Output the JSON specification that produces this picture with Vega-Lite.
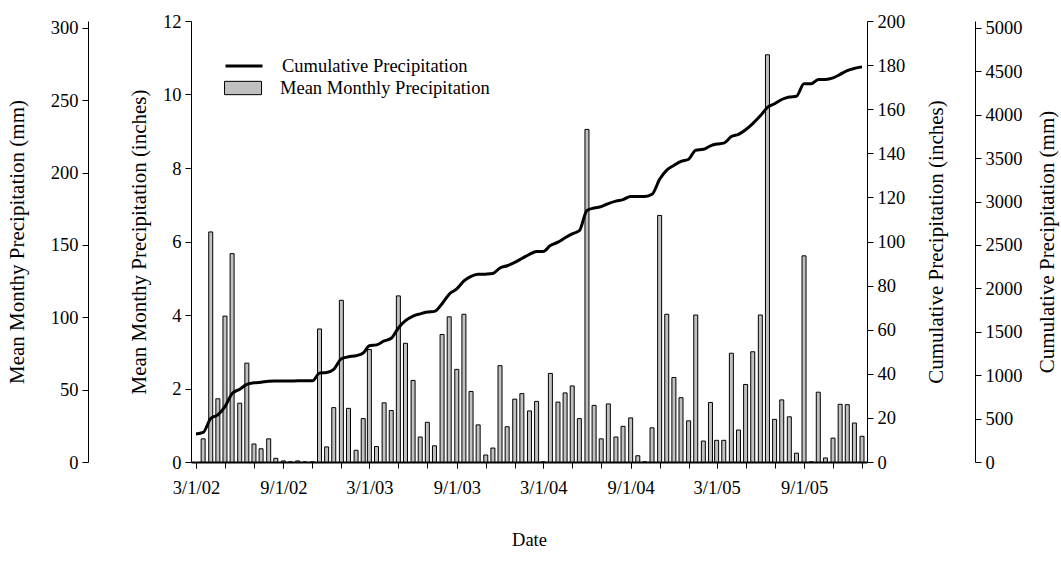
{
  "$schema": "https://vega.github.io/schema/vega-lite/v6.json",
  "width": 676,
  "height": 441,
  "autosize": {"type": "none"},
  "padding": {"left": 191, "top": 21, "right": 194, "bottom": 107},
  "background": "white",
  "config": {
    "font": "Liberation Serif",
    "view": {"stroke": null},
    "axis": {
      "labelFont": "Liberation Serif",
      "titleFont": "Liberation Serif",
      "labelFontSize": 18.5,
      "titleFontSize": 18.5,
      "titleFontWeight": "normal",
      "labelColor": "black",
      "titleColor": "black",
      "domainColor": "black",
      "tickColor": "black",
      "grid": false,
      "tickSize": 6,
      "labelPadding": 4
    },
    "axisY": {"titleFontSize": 21},
    "legend": {
      "labelFont": "Liberation Serif",
      "labelFontSize": 18.5,
      "labelColor": "black",
      "labelLimit": 500
    }
  },
  "datasets": {
    "precip": [
      {"date": "2002/03/01", "precip": null, "cum": 12.7},
      {"date": "2002/03/16", "precip": 0.63, "cum": 13.4},
      {"date": "2002/04/01", "precip": 6.26, "cum": 19.7},
      {"date": "2002/04/16", "precip": 1.72, "cum": 21.4},
      {"date": "2002/05/01", "precip": 3.97, "cum": 25.1},
      {"date": "2002/05/16", "precip": 5.67, "cum": 31.0},
      {"date": "2002/06/01", "precip": 1.60, "cum": 33.0},
      {"date": "2002/06/16", "precip": 2.69, "cum": 35.2},
      {"date": "2002/07/01", "precip": 0.49, "cum": 35.9},
      {"date": "2002/07/16", "precip": 0.36, "cum": 36.2},
      {"date": "2002/08/01", "precip": 0.63, "cum": 36.6},
      {"date": "2002/08/16", "precip": 0.10, "cum": 36.7},
      {"date": "2002/09/01", "precip": 0.03, "cum": 36.75},
      {"date": "2002/09/16", "precip": 0, "cum": 36.75},
      {"date": "2002/10/01", "precip": 0.03, "cum": 36.8},
      {"date": "2002/10/16", "precip": 0, "cum": 36.8},
      {"date": "2002/11/01", "precip": 0, "cum": 36.8},
      {"date": "2002/11/16", "precip": 3.62, "cum": 40.3},
      {"date": "2002/12/01", "precip": 0.41, "cum": 40.6},
      {"date": "2002/12/16", "precip": 1.48, "cum": 42.0},
      {"date": "2003/01/01", "precip": 4.40, "cum": 46.8},
      {"date": "2003/01/16", "precip": 1.46, "cum": 47.7},
      {"date": "2003/02/01", "precip": 0.32, "cum": 48.2},
      {"date": "2003/02/16", "precip": 1.18, "cum": 49.4},
      {"date": "2003/03/01", "precip": 3.06, "cum": 52.7},
      {"date": "2003/03/16", "precip": 0.42, "cum": 53.1},
      {"date": "2003/04/01", "precip": 1.61, "cum": 54.9},
      {"date": "2003/04/16", "precip": 1.40, "cum": 56.1},
      {"date": "2003/05/01", "precip": 4.52, "cum": 60.8},
      {"date": "2003/05/16", "precip": 3.23, "cum": 64.1},
      {"date": "2003/06/01", "precip": 2.22, "cum": 66.2},
      {"date": "2003/06/16", "precip": 0.68, "cum": 67.2},
      {"date": "2003/07/01", "precip": 1.08, "cum": 68.0},
      {"date": "2003/07/16", "precip": 0.44, "cum": 68.3},
      {"date": "2003/08/01", "precip": 3.47, "cum": 71.8},
      {"date": "2003/08/16", "precip": 3.95, "cum": 76.1},
      {"date": "2003/09/01", "precip": 2.52, "cum": 78.5},
      {"date": "2003/09/16", "precip": 4.02, "cum": 82.1},
      {"date": "2003/10/01", "precip": 1.92, "cum": 84.2},
      {"date": "2003/10/16", "precip": 1.01, "cum": 85.1},
      {"date": "2003/11/01", "precip": 0.19, "cum": 85.2},
      {"date": "2003/11/16", "precip": 0.38, "cum": 85.5},
      {"date": "2003/12/01", "precip": 2.62, "cum": 88.0},
      {"date": "2003/12/16", "precip": 0.96, "cum": 89.0},
      {"date": "2004/01/01", "precip": 1.71, "cum": 90.5},
      {"date": "2004/01/16", "precip": 1.86, "cum": 92.3},
      {"date": "2004/02/01", "precip": 1.39, "cum": 94.2},
      {"date": "2004/02/16", "precip": 1.65, "cum": 95.5},
      {"date": "2004/03/01", "precip": 0, "cum": 95.5},
      {"date": "2004/03/16", "precip": 2.41, "cum": 98.2},
      {"date": "2004/04/01", "precip": 1.63, "cum": 99.7},
      {"date": "2004/04/16", "precip": 1.88, "cum": 101.7},
      {"date": "2004/05/01", "precip": 2.07, "cum": 103.5},
      {"date": "2004/05/16", "precip": 1.18, "cum": 104.9},
      {"date": "2004/06/01", "precip": 9.05, "cum": 114.1},
      {"date": "2004/06/16", "precip": 1.54, "cum": 115.2},
      {"date": "2004/07/01", "precip": 0.63, "cum": 115.8},
      {"date": "2004/07/16", "precip": 1.58, "cum": 117.2},
      {"date": "2004/08/01", "precip": 0.68, "cum": 118.3},
      {"date": "2004/08/16", "precip": 0.97, "cum": 119.0},
      {"date": "2004/09/01", "precip": 1.20, "cum": 120.4},
      {"date": "2004/09/16", "precip": 0.17, "cum": 120.4},
      {"date": "2004/10/01", "precip": 0, "cum": 120.4},
      {"date": "2004/10/16", "precip": 0.93, "cum": 121.4},
      {"date": "2004/11/01", "precip": 6.71, "cum": 128.2},
      {"date": "2004/11/16", "precip": 4.02, "cum": 132.4},
      {"date": "2004/12/01", "precip": 2.30, "cum": 134.5},
      {"date": "2004/12/16", "precip": 1.75, "cum": 136.3},
      {"date": "2005/01/01", "precip": 1.12, "cum": 137.3},
      {"date": "2005/01/16", "precip": 4.00, "cum": 141.4},
      {"date": "2005/02/01", "precip": 0.57, "cum": 141.8},
      {"date": "2005/02/16", "precip": 1.62, "cum": 143.4},
      {"date": "2005/03/01", "precip": 0.59, "cum": 144.2},
      {"date": "2005/03/16", "precip": 0.59, "cum": 144.6},
      {"date": "2005/04/01", "precip": 2.96, "cum": 147.6},
      {"date": "2005/04/16", "precip": 0.87, "cum": 148.6},
      {"date": "2005/05/01", "precip": 2.11, "cum": 150.7},
      {"date": "2005/05/16", "precip": 3.00, "cum": 153.5},
      {"date": "2005/06/01", "precip": 4.00, "cum": 157.0},
      {"date": "2005/06/16", "precip": 11.08, "cum": 160.8},
      {"date": "2005/07/01", "precip": 1.16, "cum": 162.5},
      {"date": "2005/07/16", "precip": 1.69, "cum": 164.4},
      {"date": "2005/08/01", "precip": 1.23, "cum": 165.5},
      {"date": "2005/08/16", "precip": 0.24, "cum": 165.9},
      {"date": "2005/09/01", "precip": 5.61, "cum": 171.5},
      {"date": "2005/09/16", "precip": 0, "cum": 171.5},
      {"date": "2005/10/01", "precip": 1.90, "cum": 173.5},
      {"date": "2005/10/16", "precip": 0.11, "cum": 173.5},
      {"date": "2005/11/01", "precip": 0.65, "cum": 174.2},
      {"date": "2005/11/16", "precip": 1.57, "cum": 175.8},
      {"date": "2005/12/01", "precip": 1.56, "cum": 177.5},
      {"date": "2005/12/16", "precip": 1.06, "cum": 178.5},
      {"date": "2006/01/01", "precip": 0.70, "cum": 179.2}
    ],
    "mmLeft": [{"mm": 0}, {"mm": 304.8}],
    "mmRight": [{"mm": 0}, {"mm": 5080}]
  },
  "layer": [
    {
      "data": {"name": "precip"},
      "mark": {"type": "bar", "size": 4, "stroke": "black", "strokeWidth": 1, "clip": true},
      "encoding": {
        "x": {
          "field": "date",
          "type": "temporal",
          "scale": {"domain": [{"year": 2002, "month": 3, "date": 1}, {"year": 2006, "month": 1, "date": 1}]},
          "axis": {
            "orient": "bottom",
            "title": "Date",
            "values": [
              {"year": 2002, "month": 3, "date": 1}, {"year": 2002, "month": 9, "date": 1},
              {"year": 2003, "month": 3, "date": 1}, {"year": 2003, "month": 9, "date": 1},
              {"year": 2004, "month": 3, "date": 1}, {"year": 2004, "month": 9, "date": 1},
              {"year": 2005, "month": 3, "date": 1}, {"year": 2005, "month": 9, "date": 1}
            ],
            "labelExpr": "timeFormat(datum.value, '%-m/%-d/%y')",
            "labelOverlap": false,
            "labelFlush": false,
            "labelBound": false,
            "labelPadding": 10,
            "domainWidth": 2,
            "titlePadding": 34
          }
        },
        "y": {
          "field": "precip",
          "type": "quantitative",
          "scale": {"domain": [0, 12], "nice": false},
          "axis": {
            "orient": "left",
            "values": [0, 2, 4, 6, 8, 10, 12],
            "title": "Mean Monthy Precipitation (inches)",
            "titlePadding": 13
          }
        },
        "fill": {
          "datum": "Mean Monthly Precipitation",
          "type": "nominal",
          "scale": {"range": ["#c0c0c0"]},
          "legend": {
            "title": null,
            "orient": "none",
            "legendX": 33,
            "legendY": 48,
            "padding": 0,
            "symbolType": "M-1,-0.36H1V0.36H-1Z",
            "symbolSize": 1369,
            "symbolStrokeColor": "black",
            "symbolStrokeWidth": 1,
            "symbolFillColor": "#c0c0c0",
            "labelOffset": 18,
            "labelLimit": 500
          }
        }
      }
    },
    {
      "data": {"name": "mmLeft"},
      "mark": {"type": "point", "opacity": 0},
      "encoding": {
        "y": {
          "field": "mm",
          "type": "quantitative",
          "scale": {"domain": [0, 304.8], "nice": false},
          "axis": {
            "orient": "left",
            "offset": 103,
            "values": [0, 50, 100, 150, 200, 250, 300],
            "format": "d",
            "title": "Mean Monthy Precipitation (mm)",
            "titlePadding": 23
          }
        }
      }
    },
    {
      "data": {"name": "precip"},
      "mark": {"type": "line", "strokeWidth": 3, "interpolate": "monotone"},
      "encoding": {
        "x": {
          "field": "date",
          "type": "temporal",
          "axis": {
            "orient": "bottom",
            "title": null,
            "labels": false,
            "domain": false,
            "values": [
              {"year": 2002, "month": 3, "date": 1}, {"year": 2002, "month": 5, "date": 1}, {"year": 2002, "month": 7, "date": 1}, {"year": 2002, "month": 9, "date": 1}, {"year": 2002, "month": 11, "date": 1},
              {"year": 2003, "month": 1, "date": 1}, {"year": 2003, "month": 3, "date": 1}, {"year": 2003, "month": 5, "date": 1}, {"year": 2003, "month": 7, "date": 1}, {"year": 2003, "month": 9, "date": 1}, {"year": 2003, "month": 11, "date": 1},
              {"year": 2004, "month": 1, "date": 1}, {"year": 2004, "month": 3, "date": 1}, {"year": 2004, "month": 5, "date": 1}, {"year": 2004, "month": 7, "date": 1}, {"year": 2004, "month": 9, "date": 1}, {"year": 2004, "month": 11, "date": 1},
              {"year": 2005, "month": 1, "date": 1}, {"year": 2005, "month": 3, "date": 1}, {"year": 2005, "month": 5, "date": 1}, {"year": 2005, "month": 7, "date": 1}, {"year": 2005, "month": 9, "date": 1}, {"year": 2005, "month": 11, "date": 1},
              {"year": 2006, "month": 1, "date": 1}
            ]
          }
        },
        "y": {
          "field": "cum",
          "type": "quantitative",
          "scale": {"domain": [0, 200], "nice": false},
          "axis": {
            "orient": "right",
            "values": [0, 20, 40, 60, 80, 100, 120, 140, 160, 180, 200],
            "format": "d",
            "title": "Cumulative Precipitation (inches)",
            "titleAngle": -90,
            "titleBaseline": "top",
            "titlePadding": 21
          }
        },
        "stroke": {
          "datum": "Cumulative Precipitation",
          "type": "nominal",
          "scale": {"range": ["black"]},
          "legend": {
            "title": null,
            "orient": "none",
            "legendX": 33,
            "legendY": 25,
            "padding": 0,
            "symbolType": "stroke",
            "symbolSize": 1369,
            "symbolStrokeWidth": 3,
            "symbolStrokeColor": "black",
            "labelOffset": 18,
            "labelLimit": 500
          }
        }
      }
    },
    {
      "data": {"name": "mmRight"},
      "mark": {"type": "point", "opacity": 0},
      "encoding": {
        "y": {
          "field": "mm",
          "type": "quantitative",
          "scale": {"domain": [0, 5080], "nice": false},
          "axis": {
            "orient": "right",
            "offset": 108,
            "values": [0, 500, 1000, 1500, 2000, 2500, 3000, 3500, 4000, 4500, 5000],
            "format": "d",
            "title": "Cumulative Precipitation (mm)",
            "titleAngle": -90,
            "titleBaseline": "top",
            "titlePadding": 14
          }
        }
      }
    }
  ],
  "resolve": {"scale": {"y": "independent"}, "axis": {"x": "independent"}}
}
